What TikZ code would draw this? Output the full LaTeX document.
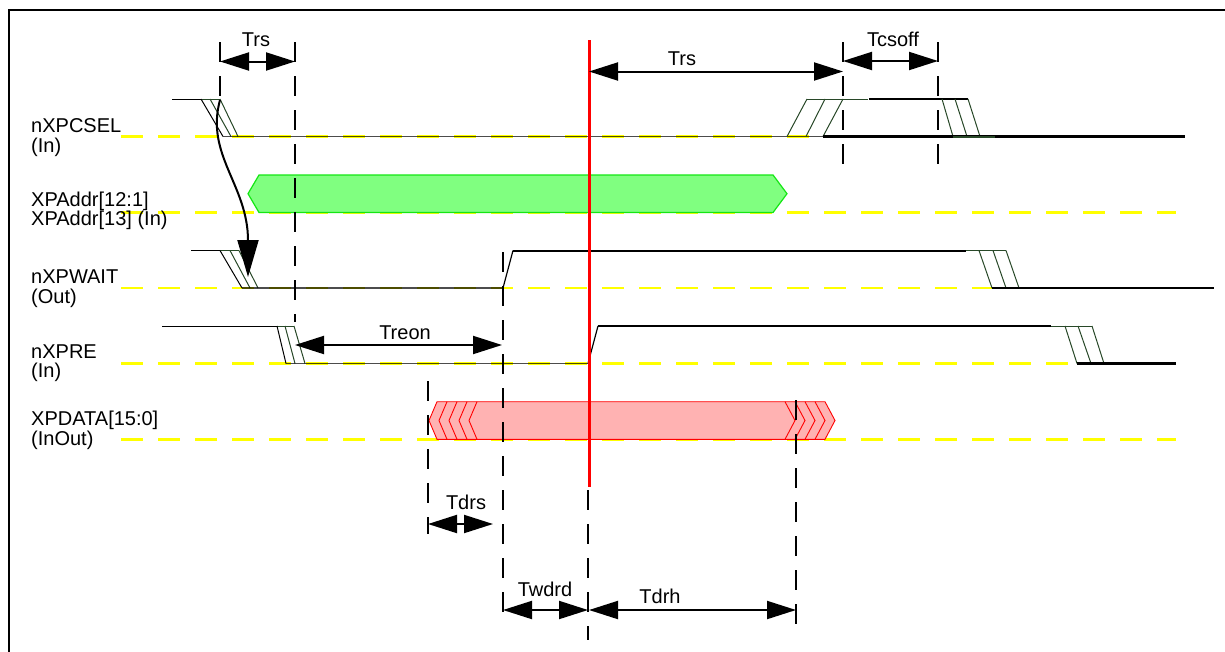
\documentclass[tikz,border=0pt]{standalone}
\usepackage{fontspec}
\setmainfont{Liberation Sans}
\usetikzlibrary{arrows.meta}
\definecolor{trgreen}{RGB}{40,72,40}
\definecolor{busgreen}{RGB}{128,255,128}
\definecolor{busgreenedge}{RGB}{20,230,20}
\definecolor{buspink}{RGB}{255,178,178}
\definecolor{ylw}{RGB}{255,255,0}
\tikzset{
  sig/.style={font=\fontsize{20}{23}\selectfont, inner sep=0pt, anchor=base west},
  tlabel/.style={font=\fontsize{20}{23}\selectfont, inner sep=0pt, anchor=base},
  dim/.style={line width=2pt, {Triangle[length=29pt,width=18pt]}-{Triangle[length=29pt,width=18pt]}},
  guide/.style={line width=2pt, dash pattern=on 20pt off 14pt},
  refline/.style={ylw, line width=2.5pt, dash pattern=on 22pt off 15pt},
  lowl/.style={line width=1.3pt, black, opacity=0.7},
  hithin/.style={line width=1pt},
  hibold/.style={line width=2pt},
  lowbold/.style={line width=2.8pt},
  tr/.style={trgreen, line width=1pt},
}
\begin{document}
\begin{tikzpicture}[x=1pt,y=-1pt]
\useasboundingbox (0,0) rectangle (1225,651);
% frame
\draw[line width=2pt] (8.5,700) -- (8.5,9.5) -- (1300,9.5);

% reference lines
\foreach \yy in {136.5,212.5,288,363.5,439.3}
  \draw[refline] (121,\yy) -- (1176,\yy);

% buses
\draw[busgreenedge, fill=busgreen, line width=1.2pt] (248,193.7) -- (259,175) -- (773,175) -- (787,193.7) -- (773,212.5) -- (259,212.5) -- cycle;
\draw[red, fill=buspink, line width=0.9pt] (429,420.5) -- (437,401.7) -- (825,401.7) -- (835,420.5) -- (825,439.3) -- (437,439.3) -- cycle;
\foreach \k in {1,...,4}
  \draw[red, line width=0.9pt] (437+10*\k,401.7) -- (429+10*\k,420.5) -- (437+10*\k,439.3);
\foreach \a in {795,805,815,825}
  \draw[red, line width=0.9pt] (\a-10,401.7) -- (\a,420.5) -- (\a-10,439.3);

% nXPCSEL
\draw[hithin] (172,99) -- (201,99);
\draw[tr] (201,99) -- (220,99);
\draw[hithin] (201,99) -- (223,136.5);
\draw[tr] (210,99) -- (231,136.5);
\draw[tr] (220,99) -- (238,136.5);
\draw[lowl] (223,136.5) -- (823,136.5);
\draw[tr] (787,136.5) -- (807,99);
\draw[tr] (806,136.5) -- (825,99);
\draw[tr] (823,136.5) -- (843,99);
\draw[tr] (807,99) -- (868,99);
\draw[lowbold] (869,99) -- (968,99);
\draw[tr] (942,99) -- (953,136.5);
\draw[tr] (955,99) -- (967,136.5);
\draw[tr] (968,99) -- (980,136.5);
\draw[lowbold] (823,136.5) -- (1185,136.5);
\draw[trgreen, line width=2pt] (953,136.5) -- (995,136.5);

% nXPWAIT
\draw[hithin] (191,250.5) -- (220,250.5);
\draw[tr] (220,250.5) -- (239,250.5);
\draw[hithin] (220,250.5) -- (242,288);
\draw[tr] (230,250.5) -- (250,288);
\draw[tr] (239,250.5) -- (258,288);
\draw[lowl] (242,288) -- (503,288);
\draw[line width=1.2pt] (503,288) -- (513,250.5);
\draw[hibold] (513,250.5) -- (966,250.5);
\draw[tr] (966,250.5) -- (1006,250.5);
\draw[tr] (979,250.5) -- (992,288);
\draw[tr] (993,250.5) -- (1006,288);
\draw[tr] (1006,250.5) -- (1019,288);
\draw[lowbold] (992,288) -- (1214,288);

% nXPRE
\draw[hithin] (162,326) -- (277,326);
\draw[tr] (277,326) -- (294,326);
\draw[hithin] (277,326) -- (286,363.5);
\draw[tr] (285,326) -- (295,363.5);
\draw[tr] (294,326) -- (305,363.5);
\draw[lowl] (286,363.5) -- (588,363.5);
\draw[line width=1.2pt] (588,363.5) -- (598,326);
\draw[hibold] (598,326) -- (1051,326);
\draw[tr] (1051,326) -- (1092,326);
\draw[tr] (1065,326) -- (1077,363.5);
\draw[tr] (1078,326) -- (1091,363.5);
\draw[tr] (1092,326) -- (1104,363.5);
\draw[lowbold] (1077,363.5) -- (1176,363.5);

% guide lines
\draw[guide] (220,42) -- (220,100);
\draw[guide] (295,42) -- (295,322);
\draw[guide] (502.5,252) -- (502.5,618);
\draw[guide] (428,381) -- (428,534);
\draw[guide] (588,490) -- (588,640);
\draw[guide] (796,400) -- (796,630);
\draw[guide] (843,42) -- (843,165);
\draw[guide] (938,42) -- (938,165);

% red cursor
\draw[red, line width=3pt] (589,40) -- (589,487);

% curved causality arrow
\coordinate (csfall) at (220,100);
\coordinate (waitfall) at (248,277);
\draw[line width=2pt, -{Triangle[length=37pt,width=21pt]}] (csfall) .. controls (205,155) and (248,185) .. (waitfall);

% dimension arrows
\coordinate (trsA) at (220,61.5);   \coordinate (trsB) at (295,61.5);
\coordinate (trsC) at (589,71.5);   \coordinate (trsD) at (843,71.5);
\coordinate (csoA) at (843,61);     \coordinate (csoB) at (938,61);
\coordinate (reoA) at (295,345);    \coordinate (reoB) at (502,345);
\coordinate (drsA) at (428,524);    \coordinate (drsB) at (493,524);
\coordinate (wddA) at (503,610);    \coordinate (wddB) at (588,610);
\coordinate (drhA) at (589,610);    \coordinate (drhB) at (796,610);
\draw[dim] (trsA) -- (trsB);
\draw[dim] (trsC) -- (trsD);
\draw[dim] (csoA) -- (csoB);
\draw[dim] (reoA) -- (reoB);
\draw[dim] (drsA) -- (drsB);
\draw[dim] (wddA) -- (wddB);
\draw[dim] (drhA) -- (drhB);

% timing labels
\node[tlabel] (ltrs1) at (256,46.5) {Trs};
\node[tlabel] (ltrs2) at (682,65.5) {Trs};
\node[tlabel] (lcsoff) at (893,46) {Tcsoff};
\node[tlabel] (ltreon) at (405,339) {Treon};
\node[tlabel] (ltdrs) at (466,509) {Tdrs};
\node[tlabel] (ltwdrd) at (545,596) {Twdrd};
\node[tlabel] (ltdrh) at (660,603) {Tdrh};

% signal labels
\node[sig] (s1a) at (31,132.5) {nXPCSEL};
\node[sig] (s1b) at (31,152) {(In)};
\node[sig] (s2a) at (31,206.5) {XPAddr[12:1]};
\node[sig] (s2b) at (31,225) {XPAddr[13] (In)};
\node[sig] (s3a) at (31,283) {nXPWAIT};
\node[sig] (s3b) at (31,303) {(Out)};
\node[sig] (s4a) at (31,358) {nXPRE};
\node[sig] (s4b) at (31,377) {(In)};
\node[sig] (s5a) at (31,425) {XPDATA[15:0]};
\node[sig] (s5b) at (31,445) {(InOut)};
\end{tikzpicture}
\end{document}
